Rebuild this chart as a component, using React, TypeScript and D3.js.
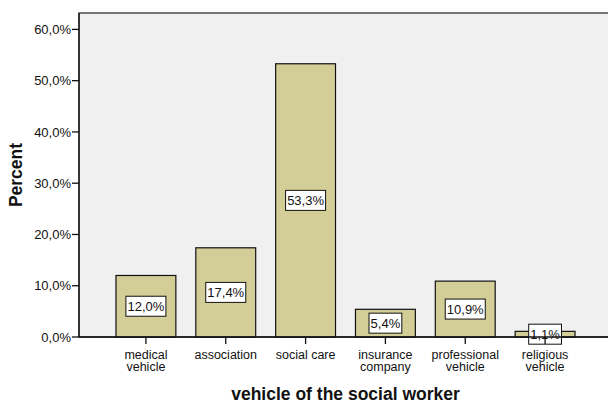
import React from "react";
import * as d3 from "d3";

const categories: string[][] = [
  ["medical", "vehicle"],
  ["association"],
  ["social care"],
  ["insurance", "company"],
  ["professional", "vehicle"],
  ["religious", "vehicle"],
];
const values: number[] = [12.0, 17.4, 53.3, 5.4, 10.9, 1.1];
const yTicks: number[] = [0, 10, 20, 30, 40, 50, 60];

const W = 608;
const H = 403;
const left = 79;
const right = 612;
const top = 13;
const bottom = 337;

const fmt = (v: number) => v.toFixed(1).replace(".", ",") + "%";

export default function App() {
  const x = d3
    .scaleBand<number>()
    .domain(values.map((_, i) => i))
    .range([left + 27, right - 27])
    .paddingInner(0.25)
    .paddingOuter(0.125);
  const y = d3.scaleLinear().domain([0, 63.2]).range([bottom, top]);
  const font = "'Liberation Sans', Arial, sans-serif";

  return (
    <svg
      width={W}
      height={H}
      style={{ position: "absolute", left: 0, top: 0, display: "block" }}
      fontFamily={font}
    >
      <rect x={0} y={0} width={W} height={H} fill="#ffffff" />
      <rect x={left} y={top} width={right - left} height={bottom - top} fill="#f0f0f0" stroke="#333" strokeWidth={1.3} />
      {values.map((v, i) => {
        const bx = x(i)!;
        const bw = x.bandwidth();
        const yt = y(v);
        return (
          <rect key={i} x={bx} y={yt} width={bw} height={bottom - yt} fill="#d3ce97" stroke="#111" strokeWidth={1.2} />
        );
      })}
      {values.map((v, i) => {
        const cx = x(i)! + x.bandwidth() / 2;
        const cy = (y(v) + bottom) / 2;
        const label = fmt(v);
        const bw = label.length * 7.2 + 4;
        return (
          <g key={"l" + i}>
            <rect x={cx - bw / 2} y={cy - 10} width={bw} height={20} fill="#fff" stroke="#111" strokeWidth={1} />
            <text x={cx} y={cy + 4.7} textAnchor="middle" fontSize={13} fill="#111">
              {label}
            </text>
          </g>
        );
      })}
      <line x1={left} x2={right} y1={bottom} y2={bottom} stroke="#111" strokeWidth={1.3} />
      <line x1={left} x2={left} y1={top} y2={bottom} stroke="#111" strokeWidth={1.3} />
      {yTicks.map((t) => (
        <g key={"t" + t}>
          <line x1={left - 7} x2={left} y1={y(t)} y2={y(t)} stroke="#111" strokeWidth={1.3} />
          <text x={left - 8} y={y(t) + 4.7} textAnchor="end" fontSize={13} fill="#111">
            {fmt(t)}
          </text>
        </g>
      ))}
      {categories.map((lines, i) => {
        const cx = x(i)! + x.bandwidth() / 2;
        return (
          <g key={"c" + i}>
            <line x1={cx} x2={cx} y1={bottom} y2={bottom + 7} stroke="#111" strokeWidth={1.3} />
            {lines.map((ln, j) => (
              <text key={j} x={cx} y={358.5 + j * 12.5} textAnchor="middle" fontSize={12.5} fill="#111">
                {ln}
              </text>
            ))}
          </g>
        );
      })}
      <text x={(left + right) / 2} y={400} textAnchor="middle" fontSize={17.5} fontWeight="bold" fill="#111">
        vehicle of the social worker
      </text>
      <text
        transform={`translate(22, ${(top + bottom) / 2}) rotate(-90)`}
        textAnchor="middle"
        fontSize={17.5}
        fontWeight="bold"
        fill="#111"
      >
        Percent
      </text>
    </svg>
  );
}
